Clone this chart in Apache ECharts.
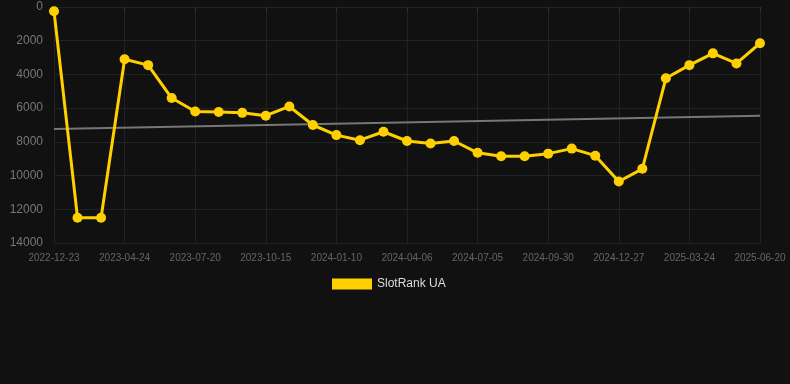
<!DOCTYPE html>
<html>
<head>
<meta charset="utf-8">
<script src="https://cdn.jsdelivr.net/npm/echarts@6/dist/echarts.min.js"></script>
<style>
html,body{margin:0;padding:0;background:#111111;}
#chart{width:790px;height:384px;}
</style>
</head>
<body>
<div id="chart"></div>
<script>
const categories = [
  '2022-12-23','2023-02-02','2023-03-15','2023-04-24','2023-05-23','2023-06-21',
  '2023-07-20','2023-08-18','2023-09-16','2023-10-15','2023-11-13','2023-12-12',
  '2024-01-10','2024-02-08','2024-03-08','2024-04-06','2024-05-06','2024-06-05',
  '2024-07-05','2024-08-03','2024-09-01','2024-09-30','2024-10-29','2024-11-28',
  '2024-12-27','2025-01-25','2025-02-23','2025-03-24','2025-04-22','2025-05-22',
  '2025-06-20'
];
const slotRankUA = [
  250, 12500, 12500, 3100, 3450, 5400,
  6200, 6230, 6280, 6450, 5900, 7000,
  7600, 7900, 7400, 7950, 8100, 7950,
  8650, 8850, 8850, 8700, 8400, 8820,
  10350, 9600, 4230, 3450, 2750, 3350,
  2150
];
const trendStart = 7240;
const trendEnd = 6450;
const trendData = categories.map((c, i) => i === 0 ? trendStart : (i === categories.length - 1 ? trendEnd : null));

const chart = echarts.init(document.getElementById('chart'), null, {renderer: 'canvas'});
chart.setOption({
  backgroundColor: '#111111',
  animation: false,
  grid: {left: 54, right: 30, top: 7, bottom: 141},
  legend: {
    data: [{name: 'SlotRank UA', icon: 'rect'}],
    top: 273,
    left: 327,
    itemWidth: 40,
    itemHeight: 11,
    itemGap: 6,
    textStyle: {color: '#dddddd', fontSize: 12, fontFamily: 'Arial, Liberation Sans, sans-serif'}
  },
  xAxis: {
    type: 'category',
    data: categories,
    boundaryGap: false,
    axisLine: {show: false},
    axisTick: {show: true, interval: 2, lineStyle: {color: '#333333'}, length: 4},
    axisLabel: {interval: 2, color: '#666666', fontSize: 10, margin: 10, fontFamily: 'Arial, Liberation Sans, sans-serif'},
    splitLine: {show: true, interval: 2, lineStyle: {color: '#222222', width: 1}}
  },
  yAxis: {
    type: 'value',
    inverse: true,
    min: 0,
    max: 14000,
    interval: 2000,
    axisLine: {show: false},
    axisTick: {show: false},
    axisLabel: {color: '#777777', fontSize: 12, margin: 11, formatter: v => String(v), fontFamily: 'Arial, Liberation Sans, sans-serif'},
    splitLine: {lineStyle: {color: '#222222', width: 1}}
  },
  series: [
    {
      name: 'SlotRank UA',
      type: 'line',
      data: slotRankUA,
      symbol: 'circle',
      symbolSize: 10,
      lineStyle: {color: '#ffd000', width: 3},
      itemStyle: {color: '#ffd000'},
      z: 3
    },
    {
      name: 'Trend',
      type: 'line',
      data: trendData,
      connectNulls: true,
      symbol: 'none',
      lineStyle: {color: '#777777', width: 2},
      itemStyle: {color: '#777777'},
      z: 2
    }
  ]
});
</script>
</body>
</html>
